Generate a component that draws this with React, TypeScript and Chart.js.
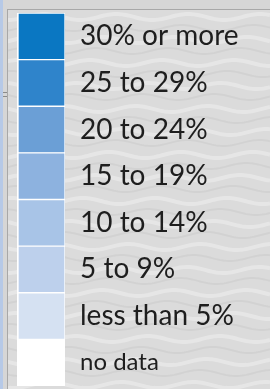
import React, { useEffect, useRef } from "react";
import { Chart, registerables } from "chart.js";
Chart.register(...registerables);

const categories = [
  "30% or more",
  "25 to 29%",
  "20 to 24%",
  "15 to 19%",
  "10 to 14%",
  "5 to 9%",
  "less than 5%",
  "no data",
];
const swatchValues = [1, 1, 1, 1, 1, 1, 1, 1];
const swatchColors = [
  "#0a77c2",
  "#2f84cb",
  "#6b9fd6",
  "#8db2df",
  "#a8c4e7",
  "#bdd0ec",
  "#d5e1f2",
  "#ffffff",
];

const backgroundPlugin = {
  id: "mapBackground",
  beforeDraw(chart: any) {
    const ctx = chart.ctx as CanvasRenderingContext2D;
    const w = chart.width;
    const h = chart.height;
    ctx.save();
    ctx.fillStyle = "#dbdbdb";
    ctx.fillRect(0, 0, w, h);
    for (let y0 = -6; y0 < h + 20; y0 += 23) {
      ctx.beginPath();
      for (let x = 0; x <= w; x += 2) {
        const y = y0 + 3 * Math.sin((2 * Math.PI * x) / 72 + y0 * 0.05);
        if (x === 0) ctx.moveTo(x, y);
        else ctx.lineTo(x, y);
      }
      ctx.strokeStyle = "rgba(255,255,255,0.3)";
      ctx.lineWidth = 4;
      ctx.stroke();
      ctx.beginPath();
      for (let x = 0; x <= w; x += 2) {
        const y = y0 + 11 + 3 * Math.sin((2 * Math.PI * x) / 72 + y0 * 0.05 + 0.6);
        if (x === 0) ctx.moveTo(x, y);
        else ctx.lineTo(x, y);
      }
      ctx.strokeStyle = "rgba(0,0,0,0.04)";
      ctx.lineWidth = 2;
      ctx.stroke();
    }
    ctx.fillStyle = "#d6d6d6";
    ctx.fillRect(0, 0, w, 9);
    ctx.fillRect(0, 0, 7, h);
    ctx.fillStyle = "#b6c9e7";
    ctx.fillRect(0, 0, 3, h);
    ctx.fillStyle = "#a8a8a8";
    ctx.fillRect(7, 9, 1, h - 9);
    ctx.fillRect(7, 9, w - 7, 1);
    ctx.fillStyle = "#8a8a8a";
    ctx.fillRect(3, 92, 4, 1);
    ctx.fillRect(3, 96, 4, 1);
    const a = chart.chartArea;
    ctx.fillStyle = "#ffffff";
    ctx.fillRect(a.left, a.top, a.right - a.left, a.bottom - a.top);
    ctx.restore();
  },
};

export default function App() {
  const ref = useRef<HTMLCanvasElement>(null);
  useEffect(() => {
    document.body.style.margin = "0";
    const chart = new Chart(ref.current!, {
      type: "bar",
      data: {
        labels: categories,
        datasets: [
          {
            data: swatchValues,
            backgroundColor: swatchColors,
            borderColor: "#ffffff",
            borderWidth: { top: 1, bottom: 1, left: 2, right: 1 },
            borderSkipped: false,
            categoryPercentage: 1,
            barPercentage: 1,
          },
        ],
      },
      options: {
        indexAxis: "y",
        responsive: false,
        animation: false,
        layout: { padding: { left: 17, top: 13, bottom: 3, right: 0 } },
        plugins: { legend: { display: false }, tooltip: { enabled: false } },
        scales: {
          x: { display: false, min: 0, max: 1 },
          y: {
            position: "right",
            grid: { display: false, drawTicks: false },
            border: { display: false },
            afterFit: (scale: any) => {
              scale.width = 205;
              scale.paddingTop = 0;
              scale.paddingBottom = 0;
            },
            ticks: {
              padding: 15,
              color: "#1e1e1e",
              font: (ctx: any) => ({
                family: "Lato",
                size: ctx.index === 7 ? 24 : 28,
              }),
            },
          },
        },
      },
      plugins: [backgroundPlugin],
    } as any);
    return () => chart.destroy();
  }, []);
  return (
    <div style={{ width: 270, height: 389 }}>
      <canvas ref={ref} width={270} height={389} style={{ display: "block" }} />
    </div>
  );
}
